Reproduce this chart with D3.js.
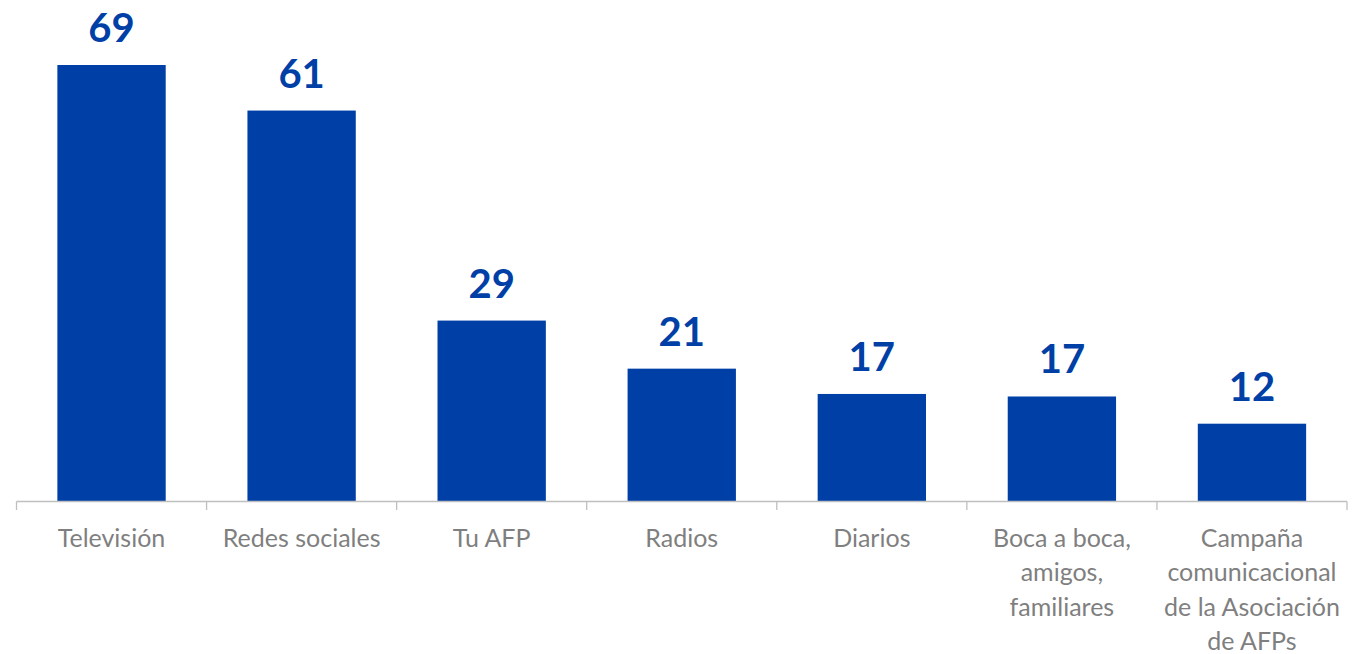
<!DOCTYPE html>
<html>
<head>
<meta charset="utf-8">
<script src="https://cdn.jsdelivr.net/npm/d3@7"></script>
<style>
  html, body { margin: 0; padding: 0; background: #ffffff; }
  svg { display: block; }
</style>
</head>
<body>
<svg id="chart" width="1360" height="654"></svg>
<script>
// ---- data ----
const categories = [
  "Televisión",
  "Redes sociales",
  "Tu AFP",
  "Radios",
  "Diarios",
  "Boca a boca, amigos, familiares",
  "Campaña comunicacional de la Asociación de AFPs"
];
const values = [69.0, 61.8, 28.6, 21.0, 17.0, 16.6, 12.3];
const valueLabels = ["69", "61", "29", "21", "17", "17", "12"];

// ---- layout ----
const W = 1360, H = 654;
const axisY = 501.5;
const left = 16.5, right = 1347;
const barColor = "#0040A6";
const textGray = "#7F7F7F";
const axisColor = "#BFBFBF";

const svg = d3.select("#chart");

const x = d3.scaleBand()
  .domain(categories)
  .range([left, right])
  .paddingInner(0.43)
  .paddingOuter(0.215);

const y = d3.scaleLinear()
  .domain([0, 70])
  .range([axisY, axisY - 70 * 6.326]);

const data = categories.map((c, i) => ({ cat: c, v: values[i], label: valueLabels[i] }));

// bars
svg.append("g").selectAll("rect")
  .data(data)
  .join("rect")
  .attr("x", d => x(d.cat))
  .attr("y", d => y(d.v))
  .attr("width", x.bandwidth())
  .attr("height", d => y(0) - y(d.v))
  .attr("fill", barColor);

// value labels
svg.append("g").selectAll("text")
  .data(data)
  .join("text")
  .attr("x", d => x(d.cat) + x.bandwidth() / 2)
  .attr("y", d => y(d.v) - 23)
  .attr("text-anchor", "middle")
  .attr("font-family", "Lato, 'Open Sans', sans-serif")
  .attr("font-weight", "bold")
  .attr("font-size", 40)
  .attr("fill", barColor)
  .text(d => d.label);

// axis line
svg.append("line")
  .attr("x1", left).attr("x2", right)
  .attr("y1", axisY).attr("y2", axisY)
  .attr("stroke", axisColor).attr("stroke-width", 1.3);

// boundary ticks
const step = x.step();
const boundaries = d3.range(categories.length + 1).map(i => left + i * step);
svg.append("g").selectAll("line")
  .data(boundaries)
  .join("line")
  .attr("x1", d => d).attr("x2", d => d)
  .attr("y1", axisY).attr("y2", axisY + 8.5)
  .attr("stroke", axisColor).attr("stroke-width", 1.3);

// category labels with wrapping
const maxW = 184;
const lineH = 34.4;
const catG = svg.append("g")
  .attr("font-family", "Lato, 'Open Sans', sans-serif")
  .attr("font-size", 25)
  .attr("fill", textGray);

data.forEach(d => {
  const cx = x(d.cat) + x.bandwidth() / 2;
  const t = catG.append("text")
    .attr("x", cx)
    .attr("y", 547)
    .attr("text-anchor", "middle");
  const words = d.cat.split(" ");
  let lines = [];
  let cur = [];
  const probe = t.append("tspan");
  words.forEach(w => {
    const test = cur.concat([w]).join(" ");
    probe.text(test);
    if (probe.node().getComputedTextLength() > maxW && cur.length) {
      lines.push(cur.join(" "));
      cur = [w];
    } else {
      cur.push(w);
    }
  });
  if (cur.length) lines.push(cur.join(" "));
  probe.remove();
  lines.forEach((ln, i) => {
    t.append("tspan")
      .attr("x", cx)
      .attr("y", 547 + i * lineH)
      .text(ln);
  });
});
</script>
</body>
</html>
